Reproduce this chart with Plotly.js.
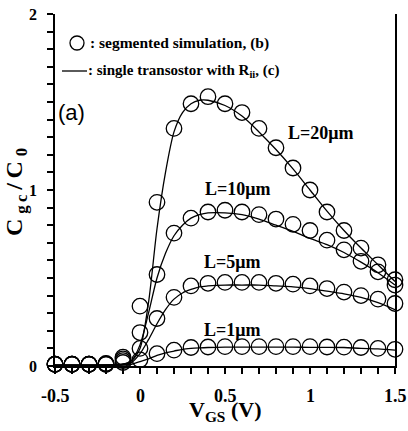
<!DOCTYPE html>
<html>
<head>
<meta charset="utf-8">
<script src="https://cdn.plot.ly/plotly-3.0.1.min.js"></script>
<style>html,body{margin:0;padding:0;background:#fff;}#chart{width:408px;height:431px;}</style>
</head>
<body>
<div id="chart"></div>
<script>
// Simulation points (circles)
const simX = [-0.5,-0.4,-0.3,-0.2,-0.1,0,0.1,0.2,0.3,0.4,0.5,0.6,0.7,0.8,0.9,1.0,1.1,1.2,1.3,1.4,1.5];
const sim20 = [0.01,0.01,0.01,0.015,0.05,0.34,0.93,1.35,1.49,1.53,1.49,1.44,1.35,1.24,1.125,1.0,0.875,0.77,0.67,0.575,0.49];
const sim10 = [0.01,0.01,0.01,0.012,0.04,0.19,0.52,0.755,0.84,0.875,0.885,0.875,0.86,0.835,0.805,0.77,0.715,0.66,0.595,0.535,0.46];
const sim5  = [0.01,0.01,0.01,0.01,0.03,0.10,0.27,0.39,0.455,0.47,0.475,0.475,0.475,0.47,0.465,0.455,0.44,0.42,0.40,0.38,0.355];
const sim1  = [0.01,0.01,0.01,0.01,0.02,0.035,0.07,0.09,0.105,0.108,0.11,0.11,0.11,0.11,0.11,0.11,0.108,0.107,0.105,0.10,0.095];

// Single-transistor model (lines)
const lineX = [-0.5,-0.3,-0.1,-0.05,0,0.05,0.1,0.15,0.2,0.25,0.3,0.35,0.4,0.5,0.6,0.7,0.8,0.9,1.0,1.1,1.2,1.3,1.4,1.5];
const line20 = [0.005,0.005,0.01,0.03,0.1,0.36,0.78,1.1,1.33,1.44,1.49,1.51,1.51,1.48,1.42,1.33,1.23,1.12,1.0,0.88,0.77,0.67,0.575,0.48];
const line10 = [0.005,0.005,0.01,0.03,0.12,0.3,0.5,0.64,0.74,0.8,0.84,0.86,0.87,0.87,0.86,0.835,0.8,0.765,0.725,0.69,0.645,0.59,0.53,0.46];
const line5  = [0.005,0.005,0.01,0.02,0.07,0.15,0.24,0.32,0.38,0.415,0.435,0.45,0.455,0.46,0.46,0.46,0.455,0.45,0.44,0.425,0.41,0.39,0.36,0.32];
const line1  = [0.005,0.005,0.005,0.01,0.025,0.04,0.06,0.075,0.085,0.095,0.1,0.103,0.105,0.107,0.107,0.107,0.107,0.107,0.106,0.106,0.105,0.1,0.097,0.09];

// Tick labels
const xLabelVals = [-0.5,0,0.5,1,1.5];
const xLabelText = ['-0.5','0','0.5','1','1.5'];
const yLabelVals = [0,1,2];
const yLabelText = ['0','1','2'];

const curveLabels = ['L=20μm','L=10μm','L=5μm','L=1μm'];
const labelX = [1.062,0.574,0.544,0.544];
const labelY = [1.324,1.006,0.59,0.205];

const serif = 'Liberation Serif, Times New Roman, serif';
const lineStyle = {color:'black', width:1.3, shape:'spline', smoothing:0.8};
const markerStyle = {symbol:'circle-open', size:15.5, color:'black', line:{width:1.3, color:'black'}};

const traces = [];
[line20,line10,line5,line1].forEach(y => traces.push({x:lineX, y:y, type:'scatter', mode:'lines', line:lineStyle, cliponaxis:false, showlegend:false, hoverinfo:'skip'}));
[sim20,sim10,sim5,sim1].forEach(y => traces.push({x:simX, y:y, type:'scatter', mode:'markers', marker:markerStyle, cliponaxis:false, showlegend:false}));

const annotations = curveLabels.map((t,i) => ({
  x: labelX[i], y: labelY[i], xref:'x', yref:'y', text: t, showarrow:false,
  font:{family:serif, size:18, weight:'bold', color:'black'}, xanchor:'center', yanchor:'middle'
}));

xLabelVals.forEach((v,i) => annotations.push({
  x:v, xref:'x', y:0, yref:'paper', yshift:-30, text:xLabelText[i], showarrow:false,
  xanchor:'center', yanchor:'middle', font:{family:serif, size:18, weight:'bold', color:'black'}
}));
yLabelVals.forEach((v,i) => annotations.push({
  x:0, xref:'paper', xshift:-16, y:v, yref:'y', text:yLabelText[i], showarrow:false,
  xanchor:'right', yanchor:'middle', font:{family:serif, size:16, weight:'bold', color:'black'}
}));

const ts = '\u2009';
annotations.push(
  {xref:'paper', yref:'paper', x:(88-55)/340, y:(366-43)/352, text:': segmented simulation, (b)', showarrow:false,
   xanchor:'left', yanchor:'middle', font:{family:serif, size:15.5, weight:'bold', color:'black'}},
  {xref:'paper', yref:'paper', x:(86-55)/340, y:(366-71)/352, text:': single transostor with R<sub>ii</sub>, (c)', showarrow:false,
   xanchor:'left', yanchor:'middle', font:{family:serif, size:15, weight:'bold', color:'black'}},
  {xref:'paper', yref:'paper', x:(71-55)/340, y:(366-112)/352, text:'(a)', showarrow:false,
   xanchor:'center', yanchor:'middle', font:{family:'Liberation Sans, Arial, sans-serif', size:22, color:'black'}},
  {xref:'paper', yref:'paper', x:0.5, y:(366-411)/352, text:'V<sub>GS</sub> (V)', showarrow:false,
   xanchor:'center', yanchor:'middle', font:{family:serif, size:22, weight:'bold', color:'black'}},
  {xref:'paper', yref:'paper', x:(16-55)/340, y:(366-192)/352,
   text:'C'+ts+'<sub>g'+ts+'c</sub>'+ts+'/'+ts+'C'+ts+'<sub>0</sub>', showarrow:false, textangle:-90,
   xanchor:'center', yanchor:'middle', font:{family:serif, size:24, weight:'bold', color:'black'}}
);

const shapes = [
  {type:'circle', xref:'paper', yref:'paper', xsizemode:'pixel', ysizemode:'pixel',
   xanchor:(77-55)/340, yanchor:(366-43)/352, x0:-7, x1:7, y0:-7, y1:7, line:{color:'black', width:1.3}},
  {type:'line', xref:'paper', yref:'paper', x0:(62-55)/340, x1:(87-55)/340, y0:(366-71)/352, y1:(366-71)/352,
   line:{color:'black', width:1.3}}
];

const layout = {
  width:408, height:431,
  margin:{l:55, r:13, t:14, b:65},
  paper_bgcolor:'white', plot_bgcolor:'white',
  showlegend:false,
  xaxis:{range:[-0.5,1.5], showline:true, linecolor:'black', linewidth:1.5,
    ticks:'outside', ticklen:6, tickwidth:2, tickcolor:'black',
    tickmode:'linear', tick0:-0.5, dtick:0.1, showticklabels:false,
    showgrid:false, zeroline:false},
  yaxis:{range:[0,2], showline:true, linecolor:'black', linewidth:1.5, mirror:true,
    ticks:'outside', ticklen:6, tickwidth:2, tickcolor:'black',
    tickmode:'linear', tick0:0, dtick:0.1, showticklabels:false,
    showgrid:false, zeroline:false},
  annotations: annotations,
  shapes: shapes
};

Plotly.newPlot('chart', traces, layout, {displayModeBar:false});
</script>
</body>
</html>
